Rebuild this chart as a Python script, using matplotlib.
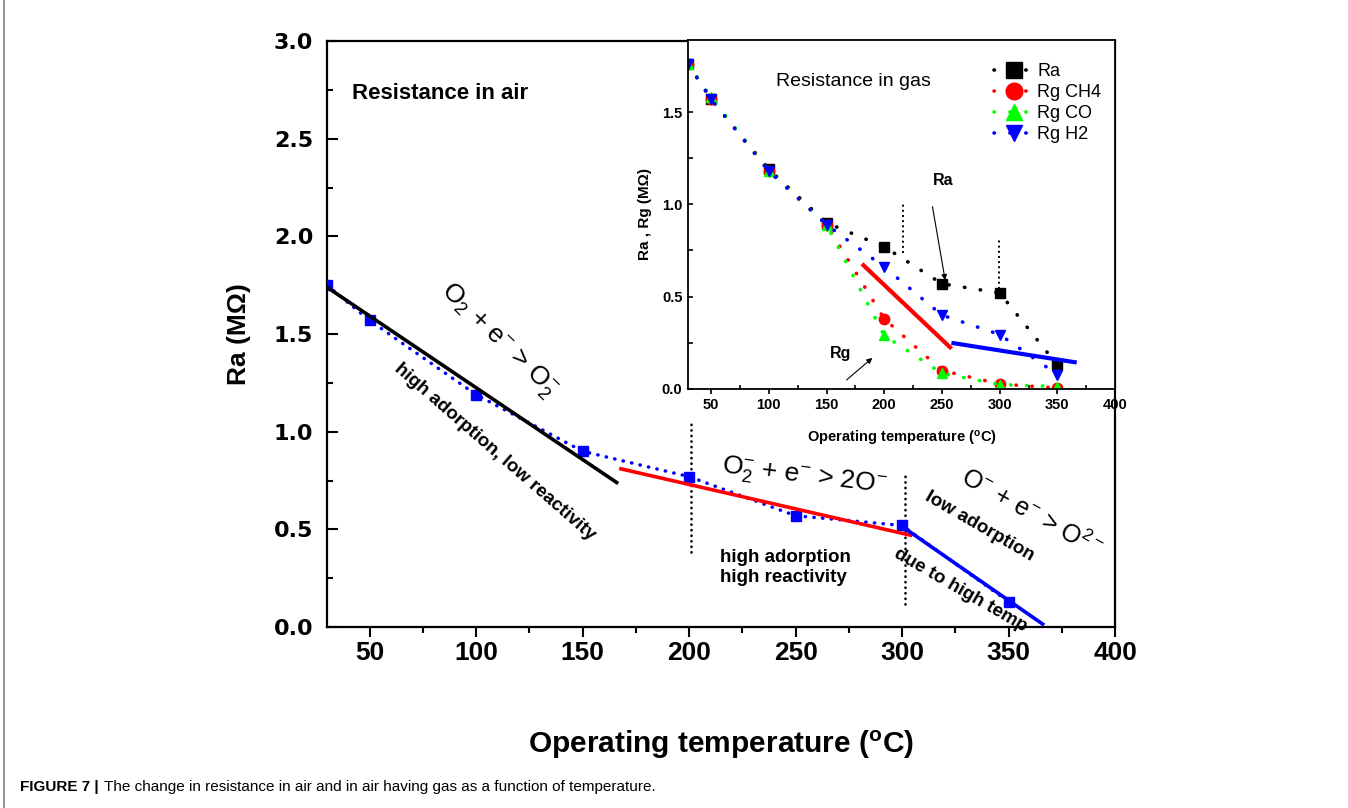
import matplotlib
matplotlib.use('Agg')
import matplotlib.pyplot as plt
from matplotlib.ticker import MultipleLocator, FormatStrFormatter
from matplotlib.lines import Line2D

plt.rcParams['font.family'] = ['Liberation Sans', 'DejaVu Sans']
plt.rcParams['mathtext.fontset'] = 'custom'
plt.rcParams['mathtext.rm'] = 'Liberation Sans'
plt.rcParams['mathtext.it'] = 'Liberation Sans:italic'
plt.rcParams['mathtext.bf'] = 'Liberation Sans:bold'

NARROW = ['Liberation Sans Narrow', 'Liberation Sans']

# 空氣中電阻
temp = [30, 50, 100, 150, 200, 250, 300, 350]
ra_air = [1.75, 1.57, 1.19, 0.90, 0.77, 0.57, 0.52, 0.13]

# 三段線性擬合
fit_low_x, fit_low_y = [30, 166], [1.74, 0.74]
fit_mid_x, fit_mid_y = [168, 304], [0.81, 0.47]
fit_high_x, fit_high_y = [300, 366], [0.515, 0.015]

# 氣體中電阻 (小圖)
ra_gas = [1.76, 1.57, 1.19, 0.90, 0.77, 0.57, 0.52, 0.13]
rg_ch4 = [1.76, 1.57, 1.18, 0.89, 0.38, 0.10, 0.027, 0.005]
rg_co = [1.76, 1.58, 1.18, 0.89, 0.29, 0.085, 0.024, 0.013]
rg_h2 = [1.76, 1.57, 1.18, 0.89, 0.66, 0.40, 0.295, 0.078]
gas_labels = ['Ra', 'Rg CH4', 'Rg CO', 'Rg H2']

fig = plt.figure(figsize=(13.48, 8.08), dpi=100)
ax = fig.add_axes([0.2426, 0.224, 0.5846, 0.725])

# 主圖
ax.plot(temp, ra_air, color='blue', ls=(0, (0.1, 2.4)), lw=2.5,
        dash_capstyle='round', marker='s', ms=7, zorder=3)
ax.plot(fit_low_x, fit_low_y, color='black', lw=2.6, zorder=4)
ax.plot(fit_mid_x, fit_mid_y, color='red', lw=2.6, zorder=4)
ax.plot(fit_high_x, fit_high_y, color='blue', lw=2.6, zorder=4)
ax.plot([201, 201], [0.386, 1.05], color='black', ls=(0, (0.1, 2.0)), lw=1.9,
        dash_capstyle='round')
ax.plot([301.4, 301.4], [0.118, 0.79], color='black', ls=(0, (0.1, 2.0)), lw=1.9,
        dash_capstyle='round')

ax.set_xlim(30, 400)
ax.set_ylim(0, 3.0)
ax.xaxis.set_major_locator(MultipleLocator(50))
ax.xaxis.set_minor_locator(MultipleLocator(25))
ax.yaxis.set_major_locator(MultipleLocator(0.5))
ax.yaxis.set_minor_locator(MultipleLocator(0.25))
ax.yaxis.set_major_formatter(FormatStrFormatter('%.1f'))
ax.tick_params(axis='x', which='major', direction='out', length=7, width=1.5, pad=3)
ax.tick_params(axis='x', which='minor', direction='out', length=4.5, width=1.5)
ax.tick_params(axis='y', which='major', direction='in', length=8, width=1.5, pad=10)
ax.tick_params(axis='y', which='minor', direction='in', length=4.5, width=1.5)
for s in ax.spines.values():
    s.set_linewidth(1.6)
plt.setp(ax.get_xticklabels(), family=NARROW, weight='bold', size=19)
plt.setp(ax.get_yticklabels(), family='DejaVu Sans', weight='bold', size=16)

ax.set_xlabel('Operating temperature ($^{\\mathbf{o}}$C)', family=NARROW,
              weight='bold', size=21.5, labelpad=46)
ax.set_ylabel('Ra (MΩ)', weight='bold', size=19, labelpad=16)

ax.text(41.7, 2.73, 'Resistance in air', weight='bold', size=16, va='center')
ax.text(110.3, 1.47, 'O$_2$ + e$^{-}$ > O$_2^{-}$', size=19, rotation=-44,
        ha='center', va='center', rotation_mode='anchor')
ax.text(108.6, 0.898, 'high adorption, low reactivity', weight='bold', size=13.5,
        rotation=-41, ha='center', va='center', rotation_mode='anchor')
ax.text(254, 0.77, 'O$_2^{-}$ + e$^{-}$ > 2O$^{-}$', size=19, rotation=-7,
        ha='center', va='center', rotation_mode='anchor')
ax.text(214.5, 0.305, 'high adorption\nhigh reactivity', weight='bold', size=13.5,
        va='center', linespacing=1.25)
ax.text(360.5, 0.585, 'O$^{-}$ + e$^{-}$ > O$^{2-}$', size=18, rotation=-29,
        ha='center', va='center', rotation_mode='anchor')
ax.text(336.3, 0.513, 'low adorption', weight='bold', size=13.5, rotation=-30,
        ha='center', va='center', rotation_mode='anchor')
ax.text(327.2, 0.189, 'due to high temp', weight='bold', size=13.5, rotation=-30,
        ha='center', va='center', rotation_mode='anchor')

# 小圖
ax_in = fig.add_axes([0.5104, 0.5186, 0.3168, 0.4319], zorder=5)
ax_in.set_facecolor('white')
dot_ls = (0, (0.1, 4.3))
series = [(ra_gas, 'black', 's'), (rg_ch4, 'red', 'o'),
          (rg_co, '#00ff00', '^'), (rg_h2, 'blue', 'v')]
for (vals, c, m), lab in zip(series, gas_labels):
    ax_in.plot(temp, vals, color=c, ls=dot_ls, lw=2.6, dash_capstyle='round',
               marker=m, ms=7.5, label=lab)
ax_in.plot([182, 257], [0.67, 0.226], color='red', lw=3)
ax_in.plot([260, 365], [0.248, 0.145], color='blue', lw=3)
ax_in.plot([216.6, 216.6], [0.734, 1.009], color='black', ls=':', lw=1.4)
ax_in.plot([299.7, 299.7], [0.516, 0.815], color='black', ls=':', lw=1.4)

ax_in.annotate('', xy=(252.8, 0.589), xytext=(241.8, 0.987),
               arrowprops=dict(arrowstyle='-|>', color='black', lw=0.8,
                               mutation_scale=8, shrinkA=0, shrinkB=0))
ax_in.annotate('', xy=(189.7, 0.168), xytext=(167.4, 0.049),
               arrowprops=dict(arrowstyle='-|>', color='black', lw=0.8,
                               mutation_scale=8, shrinkA=0, shrinkB=0))
ax_in.text(251.1, 1.13, 'Ra', weight='bold', size=11.5, ha='center', va='center')
ax_in.text(161.9, 0.19, 'Rg', weight='bold', size=11.5, ha='center', va='center')
ax_in.text(173.5, 1.667, 'Resistance in gas', size=14, ha='center', va='center')

ax_in.set_xlim(30, 400)
ax_in.set_ylim(0, 1.89)
ax_in.xaxis.set_major_locator(MultipleLocator(50))
ax_in.xaxis.set_minor_locator(MultipleLocator(25))
ax_in.yaxis.set_major_locator(MultipleLocator(0.5))
ax_in.yaxis.set_minor_locator(MultipleLocator(0.25))
ax_in.yaxis.set_major_formatter(FormatStrFormatter('%.1f'))
ax_in.tick_params(axis='x', which='major', direction='out', length=3.5, width=1.2, pad=3)
ax_in.tick_params(axis='x', which='minor', direction='in', length=3, width=1.2)
ax_in.tick_params(axis='y', which='both', direction='in', length=3.5, width=1.2, pad=4)
for s in ax_in.spines.values():
    s.set_linewidth(1.3)
plt.setp(ax_in.get_xticklabels() + ax_in.get_yticklabels(), weight='bold', size=10.5)
ax_in.set_xlabel('Operating temperature ($^{\\mathbf{o}}$C)', weight='bold',
                 size=10.5, labelpad=12)
ax_in.set_ylabel('Ra , Rg (MΩ)', weight='bold', size=11, labelpad=7)
ax_in.legend(loc='upper right', bbox_to_anchor=(0.985, 0.955), frameon=False,
             fontsize=13, handlelength=2.2, handletextpad=0.2, labelspacing=0.22,
             markerscale=1.6, borderaxespad=0)

# 圖說
fig.add_artist(Line2D([0.003, 0.003], [0, 1], color='#999999', lw=1.5))
t1 = fig.text(0.0148, 0.026, 'FIGURE 7 |', weight='bold', size=11, va='center')
ax.annotate('The change in resistance in air and in air having gas as a function of temperature.',
            xy=(1, 0.5), xycoords=t1, xytext=(4, 0), textcoords='offset points',
            va='center', size=11, annotation_clip=False)

fig.savefig('out.png', dpi=100)
